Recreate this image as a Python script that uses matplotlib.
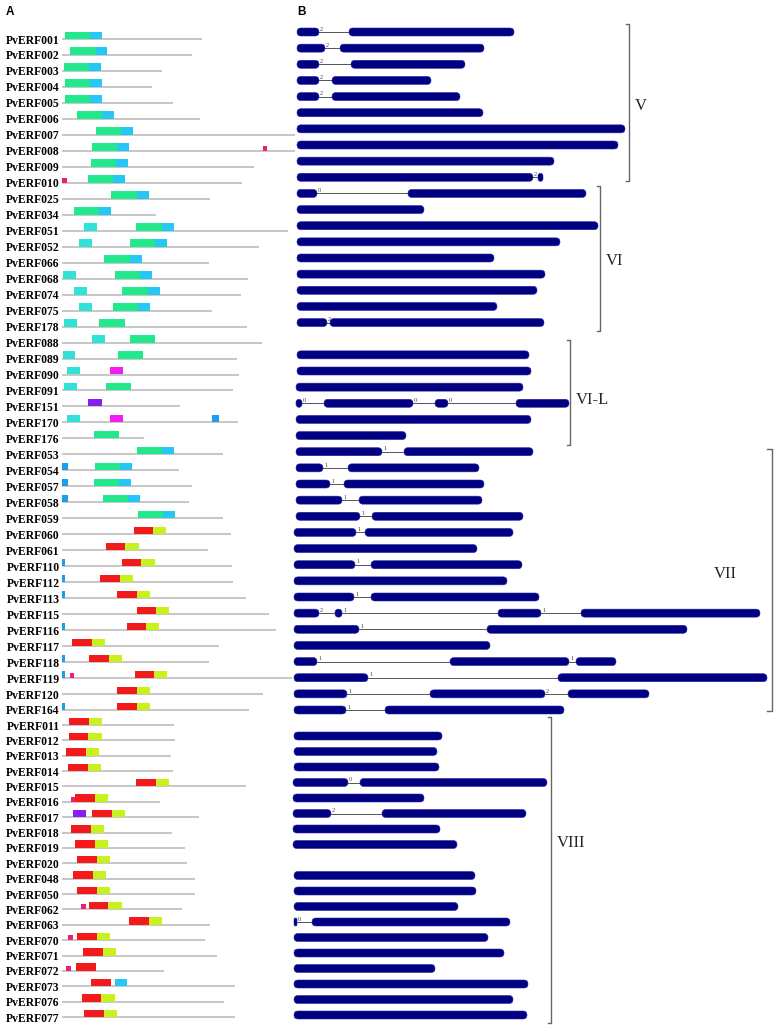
import matplotlib
matplotlib.use("Agg")
import matplotlib.pyplot as plt
from matplotlib.patches import Rectangle, FancyBboxPatch

W, H = 780, 1026

# gene order (top to bottom), grouped V, VI, VI-L, VII, VIII
genes = ["001", "002", "003", "004", "005", "006", "007", "008", "009", "010",
         "025", "034", "051", "052", "066", "068", "074", "075", "178",
         "088", "089", "090", "091", "151", "170", "176",
         "053", "054", "057", "058", "059", "060", "061", "110", "112", "113",
         "115", "116", "117", "118", "119", "120", "164",
         "011", "012", "013", "014", "015", "016", "017", "018", "019", "020",
         "048", "050", "062", "063", "070", "071", "072", "073", "076", "077"]

# panel A: protein length and motifs (kind, start, end)
prot_len = [140, 130, 100, 90, 111, 138, 233, 233, 192, 180,
            148, 94, 226, 197, 147, 186, 179, 150, 185,
            200, 175, 177, 171, 118, 176, 82,
            161, 117, 130, 127, 161, 169, 146, 170, 171, 184,
            207, 214, 157, 147, 230, 201, 187,
            112, 113, 109, 111, 184, 98, 137, 110, 123, 125,
            133, 133, 120, 148, 143, 155, 102, 173, 162, 173]

motifs = [
    [("g", 3, 28), ("b", 28, 40)],
    [("g", 8, 34), ("b", 34, 45)],
    [("g", 2, 27), ("b", 27, 39)],
    [("g", 3, 28), ("b", 28, 40)],
    [("g", 3, 28), ("b", 28, 40)],
    [("g", 15, 40), ("b", 40, 52)],
    [("g", 34, 59), ("b", 59, 71)],
    [("g", 30, 55), ("b", 55, 67), ("k", 201, 205)],
    [("g", 29, 54), ("b", 54, 66)],
    [("k", 0, 5), ("g", 26, 51), ("b", 51, 63)],
    [("g", 49, 75), ("b", 75, 87)],
    [("g", 12, 37), ("b", 37, 49)],
    [("c", 22, 35), ("g", 74, 100), ("b", 100, 112)],
    [("c", 17, 30), ("g", 68, 93), ("b", 93, 105)],
    [("g", 42, 68), ("b", 68, 80)],
    [("c", 1, 14), ("g", 53, 78), ("b", 78, 90)],
    [("c", 12, 25), ("g", 60, 86), ("b", 86, 98)],
    [("c", 17, 30), ("g", 51, 76), ("b", 76, 88)],
    [("c", 2, 15), ("g", 37, 63)],
    [("c", 30, 43), ("g", 68, 93)],
    [("c", 1, 13), ("g", 56, 81)],
    [("c", 5, 18), ("m", 48, 61)],
    [("c", 2, 15), ("g", 44, 69)],
    [("p", 26, 40)],
    [("c", 5, 18), ("m", 48, 61), ("s", 150, 157)],
    [("g", 32, 57)],
    [("g", 75, 100), ("b", 100, 112)],
    [("s", 0, 6), ("g", 33, 58), ("b", 58, 70)],
    [("s", 0, 6), ("g", 32, 57), ("b", 57, 69)],
    [("s", 0, 6), ("g", 41, 66), ("b", 66, 78)],
    [("g", 76, 101), ("b", 101, 113)],
    [("r", 72, 91), ("y", 91, 104)],
    [("r", 44, 63), ("y", 63, 77)],
    [("s", 0, 3), ("r", 60, 79), ("y", 79, 93)],
    [("s", 0, 3), ("r", 38, 58), ("y", 58, 71)],
    [("s", 0, 3), ("r", 55, 75), ("y", 75, 88)],
    [("r", 75, 94), ("y", 94, 107)],
    [("s", 0, 3), ("r", 65, 84), ("y", 84, 97)],
    [("r", 10, 30), ("y", 30, 43)],
    [("s", 0, 3), ("r", 27, 47), ("y", 47, 60)],
    [("s", 0, 3), ("k", 8, 12), ("r", 73, 92), ("y", 92, 105)],
    [("r", 55, 75), ("y", 75, 88)],
    [("s", 0, 3), ("r", 55, 75), ("y", 75, 88)],
    [("r", 7, 27), ("y", 27, 40)],
    [("r", 7, 26), ("y", 26, 40)],
    [("r", 4, 24), ("y", 24, 37)],
    [("r", 6, 26), ("y", 26, 39)],
    [("r", 74, 94), ("y", 94, 107)],
    [("k", 9, 13), ("r", 13, 33), ("y", 33, 46)],
    [("p", 11, 24), ("r", 30, 50), ("y", 50, 63)],
    [("r", 9, 29), ("y", 29, 42)],
    [("r", 13, 33), ("y", 33, 46)],
    [("r", 15, 35), ("y", 35, 48)],
    [("r", 11, 31), ("y", 31, 44)],
    [("r", 15, 35), ("y", 35, 48)],
    [("k", 19, 24), ("r", 27, 46), ("y", 46, 60)],
    [("r", 67, 87), ("y", 87, 100)],
    [("k", 6, 11), ("r", 15, 35), ("y", 35, 48)],
    [("r", 21, 41), ("y", 41, 54)],
    [("k", 4, 9), ("r", 14, 34)],
    [("r", 29, 49), ("b", 53, 65)],
    [("r", 20, 39), ("y", 39, 53)],
    [("r", 22, 42), ("y", 42, 55)],
]

# panel B: exons (start, end) and intron phases, empty = not shown
exons = [
    [(3, 25), (55, 220)], [(3, 31), (46, 190)], [(3, 25), (57, 171)],
    [(3, 25), (38, 137)], [(3, 25), (38, 166)], [(3, 189)], [(3, 331)],
    [(3, 324)], [(3, 260)], [(3, 239), (244, 249)],
    [(3, 23), (114, 292)], [(3, 130)], [(3, 304)], [(3, 266)], [(3, 200)],
    [(3, 251)], [(3, 243)], [(3, 203)], [(3, 33), (36, 250)],
    [], [(3, 235)], [(3, 237)], [(2, 229)],
    [(2, 8), (30, 119), (141, 154), (222, 275)], [(2, 237)], [(2, 112)],
    [(2, 88), (110, 239)], [(2, 29), (54, 185)], [(2, 36), (50, 190)],
    [(2, 48), (65, 188)], [(2, 66), (78, 229)], [(0, 62), (71, 219)],
    [(0, 183)], [(0, 61), (77, 228)], [(0, 213)], [(0, 60), (77, 245)],
    [(0, 25), (41, 48), (204, 247), (287, 466)], [(0, 65), (193, 393)],
    [(0, 196)], [(0, 23), (156, 275), (282, 322)], [(0, 74), (264, 473)],
    [(0, 53), (136, 251), (274, 355)], [(0, 52), (91, 270)],
    [], [(0, 148)], [(0, 143)], [(0, 145)], [(-1, 54), (66, 253)],
    [(-1, 130)], [(-1, 37), (88, 232)], [(-1, 146)], [(-1, 163)], [],
    [(0, 181)], [(0, 182)], [(0, 164)], [(0, 3), (18, 216)], [(0, 194)],
    [(0, 210)], [(0, 141)], [(0, 234)], [(0, 219)], [(0, 233)],
]

phases = [
    [2], [2], [2], [2], [2], [], [], [], [], [2],
    [0], [], [], [], [], [], [], [], [2],
    [], [], [], [], [0, 0, 0], [], [],
    [1], [1], [1], [1], [1], [1], [], [1], [], [1],
    [2, 1, 1], [1], [], [1, 1], [1], [1, 2], [1],
    [], [], [], [], [0], [], [2], [], [], [],
    [], [], [], [0], [], [], [], [], [], [],
]

group_names = ["V", "VI", "VI-L", "VII", "VIII"]
group_first = [0, 10, 19, 26, 43]
group_last = [9, 18, 25, 42, 62]

motif_colors = {"g": "#22E88C", "b": "#25C8F4", "c": "#30E3D6", "r": "#F21A1A",
                "y": "#C8F21E", "m": "#F01EEE", "p": "#8A1EF0", "s": "#1E9BEA",
                "k": "#EE1E78"}
small_kinds = {"s": 7, "k": 5}

# layout (pixels of the 780x1026 picture)
SPLIT = 43
A_X = (62, 300)
B_X = (294, 780)
A_ROWS = [(39, 710), (725, 1017)]
B_ROWS = [(32, 710), (720.5, 1015)]
BRACKET_X = [335, 306, 276, 478, 257]
BRACKET_PAD = [(0.5, 0.2), (0.43, 0.53), (-0.08, 0.59), (0.16, 0.06), (0.23, 0.52)]
LABEL_ROW = [4.6, 14.2, 22.8, 33.6, 50.9]

fig = plt.figure(figsize=(W / 100, H / 100), dpi=100)


def block_axes(xr, yr, n):
    ppr = (yr[1] - yr[0]) / (n - 1)
    top = yr[0] - 0.5 * ppr
    bottom = yr[1] + 0.5 * ppr
    ax = fig.add_axes([xr[0] / W, 1 - bottom / H, (xr[1] - xr[0]) / W, (bottom - top) / H])
    ax.set_xlim(0, xr[1] - xr[0])
    ax.set_ylim(n - 0.5, -0.5)
    ax.axis("off")
    return ax, ppr


n_top, n_bot = SPLIT, len(genes) - SPLIT
axA = [block_axes(A_X, A_ROWS[0], n_top), block_axes(A_X, A_ROWS[1], n_bot)]
axB = [block_axes(B_X, B_ROWS[0], n_top), block_axes(B_X, B_ROWS[1], n_bot)]


def locate(axes, i):
    if i < SPLIT:
        ax, ppr = axes[0]
        return ax, ppr, i
    ax, ppr = axes[1]
    return ax, ppr, i - SPLIT


# panel A - protein motifs
for i, g in enumerate(genes):
    ax, ppr, r = locate(axA, i)
    ax.plot([0, prot_len[i]], [r, r], color="#b8b8b8", lw=1.1,
            solid_capstyle="butt", clip_on=False, zorder=1)
    for kind, s, e in motifs[i]:
        h = small_kinds.get(kind, 7.5) / ppr
        ax.add_patch(Rectangle((s, r - h), e - s, h, facecolor=motif_colors[kind],
                               edgecolor="none", clip_on=False, zorder=2))
    ax.text(-2.5, r + 1.5 / ppr, "PvERF" + g, ha="right", va="center",
            fontsize=8.4, fontweight="bold", family="Liberation Serif", clip_on=False)

# panel B - gene structures
for i in range(len(genes)):
    ax, ppr, r = locate(axB, i)
    ex = exons[i]
    for j in range(len(ex) - 1):
        ax.plot([ex[j][1], ex[j + 1][0]], [r, r], color="#555555", lw=0.7,
                clip_on=False, zorder=1)
        ax.text(ex[j][1] + 1, r - 0.3 / ppr, str(phases[i][j]), ha="left", va="bottom",
                fontsize=4.6, color="#444444", family="Liberation Serif", clip_on=False)
    h = 8 / ppr
    for s, e in ex:
        w = e - s
        rs = min(4.0, w / 2)
        ax.add_patch(FancyBboxPatch((s, r - h / 2), w, h,
                                    boxstyle="round,pad=0,rounding_size=%.2f" % rs,
                                    mutation_aspect=1 / ppr, facecolor="#000080",
                                    edgecolor="#2424a8", lw=0.4, clip_on=False, zorder=2))

# subfamily brackets
for k, name in enumerate(group_names):
    ax, ppr, r0 = locate(axB, group_first[k])
    _, _, r1 = locate(axB, group_last[k])
    _, _, rl = locate(axB, int(round(LABEL_ROW[k])))
    rl = rl + LABEL_ROW[k] - round(LABEL_ROW[k])
    x = BRACKET_X[k]
    top, bot = r0 - BRACKET_PAD[k][0], r1 + BRACKET_PAD[k][1]
    tick = 5 if name == "VII" else 3
    ax.plot([x - tick, x, x, x - tick], [top, top, bot, bot], color="#666666",
            lw=1.0, clip_on=False)
    if name == "VII":
        ax.text(x - 35, rl, name, ha="right", va="center", fontsize=12,
                family="Liberation Serif", color="#222222", clip_on=False)
    else:
        ax.text(x + 6, rl, name, ha="left", va="center", fontsize=12,
                family="Liberation Serif", color="#222222", clip_on=False)

fig.text(6 / W, 1 - 12 / H, "A", fontsize=8.5, fontweight="bold",
         family="Liberation Sans", va="center")
fig.text(297 / W, 1 - 12 / H, "B", fontsize=8.5, fontweight="bold",
         family="Liberation Sans", va="center")

fig.savefig("out.png", dpi=100)
